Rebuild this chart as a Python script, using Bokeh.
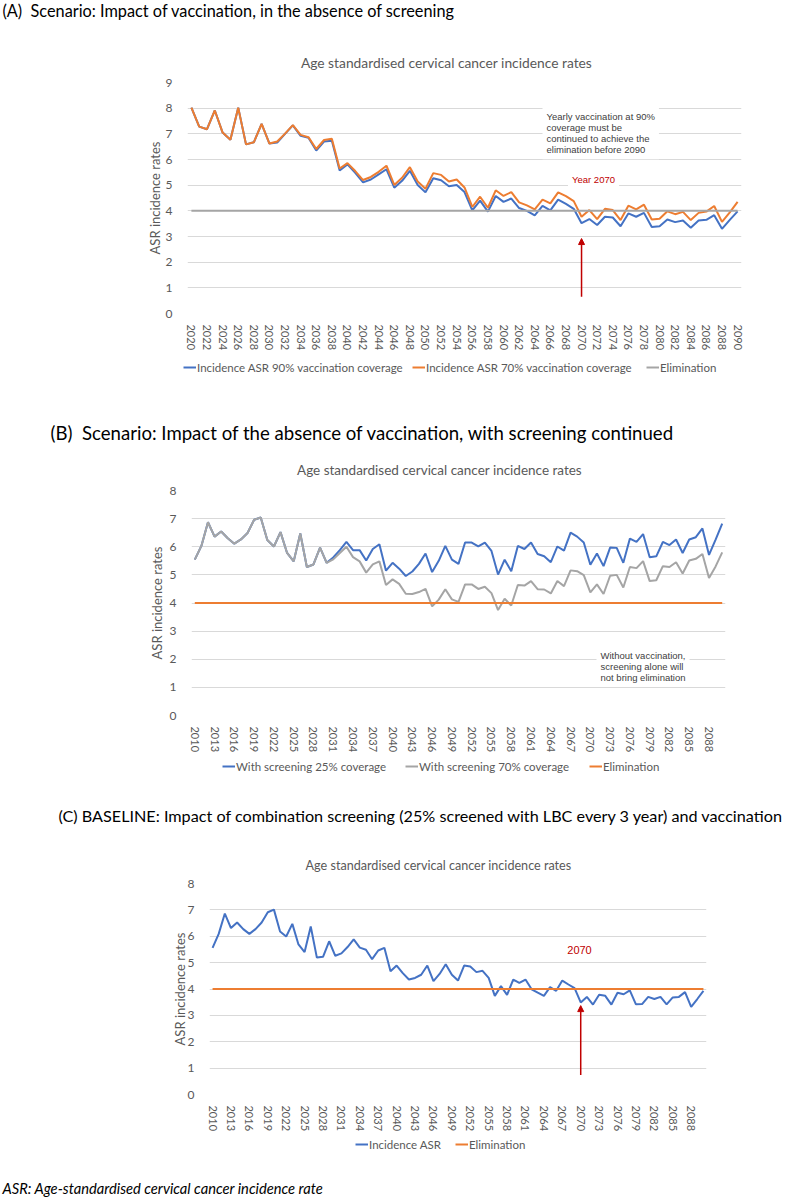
from bokeh.plotting import figure
from bokeh.models import Label, Legend, LegendItem, Arrow, NormalHead, FixedTicker, Range1d
from bokeh.layouts import column
from bokeh.embed import file_html
from bokeh.resources import INLINE

# ---------------- data ----------------
years_a = list(range(2020, 2091))
vacc90 = [8.02, 7.28, 7.18, 7.91, 7.05, 6.77, 8.02, 6.59, 6.67, 7.39,
          6.62, 6.66, 7.00, 7.33, 6.92, 6.85, 6.35, 6.70, 6.73, 5.57,
          5.81, 5.48, 5.11, 5.22, 5.42, 5.62, 4.90, 5.17, 5.56, 5.01,
          4.72, 5.27, 5.19, 4.96, 5.01, 4.73, 4.02, 4.40, 3.97, 4.58,
          4.35, 4.48, 4.11, 4.00, 3.82, 4.19, 4.02, 4.44, 4.27, 4.08,
          3.52, 3.68, 3.45, 3.77, 3.74, 3.40, 3.90, 3.77, 3.92, 3.37,
          3.40, 3.66, 3.56, 3.62, 3.34, 3.62, 3.65, 3.83, 3.30, 3.65, 3.98]
vacc70 = [8.02, 7.28, 7.18, 7.91, 7.05, 6.77, 8.02, 6.59, 6.67, 7.39,
          6.62, 6.70, 7.01, 7.34, 6.96, 6.87, 6.41, 6.76, 6.81, 5.65,
          5.86, 5.55, 5.20, 5.32, 5.52, 5.76, 5.01, 5.29, 5.70, 5.14,
          4.86, 5.47, 5.40, 5.14, 5.22, 4.91, 4.15, 4.55, 4.12, 4.80,
          4.58, 4.73, 4.33, 4.21, 4.06, 4.44, 4.29, 4.72, 4.57, 4.38,
          3.77, 4.03, 3.68, 4.08, 4.03, 3.64, 4.20, 4.06, 4.24, 3.66,
          3.69, 3.98, 3.87, 3.96, 3.64, 3.92, 3.97, 4.19, 3.57, 3.94, 4.35]

years_bc = list(range(2010, 2091))
screen25 = [5.54, 6.03, 6.87, 6.36, 6.54, 6.30, 6.11, 6.26, 6.49, 6.96,
            7.04, 6.24, 6.01, 6.52, 5.78, 5.48, 6.47, 5.28, 5.37, 5.97,
            5.43, 5.62, 5.88, 6.17, 5.88, 5.88, 5.51, 5.92, 6.09, 5.15,
            5.43, 5.22, 4.96, 5.12, 5.39, 5.76, 5.10, 5.50, 6.03, 5.54,
            5.39, 6.15, 6.15, 6.01, 6.15, 5.85, 5.01, 5.54, 5.13, 6.03,
            5.92, 6.15, 5.74, 5.66, 5.45, 6.01, 5.86, 6.50, 6.36, 6.15,
            5.36, 5.76, 5.31, 5.97, 5.96, 5.43, 6.29, 6.17, 6.45, 5.63,
            5.66, 6.17, 6.06, 6.26, 5.78, 6.26, 6.34, 6.65, 5.71, 6.25, 6.82]
screen70 = [5.54, 6.03, 6.87, 6.36, 6.54, 6.30, 6.11, 6.26, 6.49, 6.96,
            7.04, 6.24, 6.01, 6.52, 5.78, 5.48, 6.47, 5.28, 5.37, 5.97,
            5.43, 5.55, 5.78, 6.00, 5.63, 5.48, 5.08, 5.37, 5.48, 4.64,
            4.84, 4.68, 4.33, 4.32, 4.39, 4.50, 3.88, 4.12, 4.49, 4.13,
            4.04, 4.66, 4.66, 4.50, 4.58, 4.35, 3.75, 4.15, 3.91, 4.64,
            4.62, 4.78, 4.49, 4.48, 4.34, 4.78, 4.60, 5.16, 5.13, 4.99,
            4.38, 4.66, 4.32, 4.97, 5.00, 4.55, 5.28, 5.24, 5.49, 4.78,
            4.81, 5.31, 5.28, 5.45, 5.05, 5.51, 5.57, 5.74, 4.89, 5.30, 5.80]
baseline = [5.56, 6.09, 6.86, 6.31, 6.52, 6.27, 6.09, 6.27, 6.52, 6.91,
            7.01, 6.18, 5.99, 6.47, 5.69, 5.40, 6.37, 5.19, 5.22, 5.81,
            5.26, 5.35, 5.59, 5.88, 5.57, 5.49, 5.13, 5.46, 5.56, 4.67,
            4.89, 4.60, 4.36, 4.42, 4.54, 4.89, 4.30, 4.57, 4.94, 4.54,
            4.32, 4.89, 4.85, 4.64, 4.69, 4.42, 3.74, 4.11, 3.78, 4.36,
            4.23, 4.36, 3.99, 3.86, 3.74, 4.07, 3.93, 4.32, 4.17, 4.03,
            3.49, 3.70, 3.41, 3.78, 3.74, 3.41, 3.86, 3.80, 3.95, 3.42,
            3.43, 3.70, 3.62, 3.70, 3.42, 3.68, 3.70, 3.88, 3.32, 3.62, 3.93]

elimination_level = 4
elim_a = [elimination_level] * len(years_a)
elim_bc = [elimination_level] * len(years_bc)
ticks_a = list(range(2020, 2091, 2))
ticks_bc = list(range(2010, 2089, 3))

# ---------------- styling ----------------
W = 787
FONT = "Lato"
NOTE_FONT = "Liberation Sans"
BLUE, ORANGE, GREY = "#4472c4", "#ed7d31", "#a5a5a5"
RED, GRID, TXT = "#c00000", "#d9d9d9", "#595959"
GAP = "\u00a0 "


def text_strip(height):
    """A plain figure whose frame fills the whole strip; used for headings, keys and notes."""
    p = figure(width=W, height=height, output_backend="svg", toolbar_location=None,
               x_range=Range1d(0, W), y_range=Range1d(height, 0),
               min_border=0, x_axis_location=None, y_axis_location=None)
    p.frame_align = False
    p.outline_line_color = None
    p.grid.visible = False
    return p


def strip_text(p, x, y, text, size, color="black", align="left", style="normal"):
    p.add_layout(Label(x=x, y=y, text=text, text_font=FONT, text_font_size=size,
                       text_color=color, text_align=align, text_baseline="middle",
                       text_font_style=style))


def key_strip(height, y, entries):
    """Legend row. Each entry is (x, label, colour, years, values); the series is attached
    to the strip's own line renderer, which lies outside the strip's pixel range."""
    p = text_strip(height)
    for x, label, color, xs, ys in entries:
        r = p.line(xs, ys, line_color=color, line_width=2)
        p.add_layout(Legend(items=[LegendItem(label=label, renderers=[r])],
                            location=(x, height - (y + 7)), orientation="horizontal",
                            padding=0, margin=0, spacing=0, glyph_width=13, glyph_height=14,
                            label_height=14, label_standoff=1, border_line_color=None,
                            background_fill_alpha=0, label_text_font=FONT,
                            label_text_font_size="11.5px", label_text_color=TXT))
    return p


class Chart:
    def __init__(self, top, height, ml, mr, mt, mb, x0, x1, ymax, xticks, ylabel_standoff):
        self.top, self.ml, self.fb = top, ml, height - mb
        p = figure(width=W, height=height, output_backend="svg", toolbar_location=None,
                   x_range=Range1d(x0 - 0.5, x1 + 0.5), y_range=Range1d(0, ymax),
                   min_border_left=ml, min_border_right=mr,
                   min_border_top=mt, min_border_bottom=mb)
        p.frame_align = False
        p.outline_line_color = None
        p.xgrid.visible = False
        p.ygrid.grid_line_color = GRID
        p.yaxis.ticker = FixedTicker(ticks=list(range(0, ymax + 1)))
        p.xaxis.ticker = FixedTicker(ticks=xticks)
        p.xaxis.major_label_orientation = "vertical"
        for ax in (p.xaxis, p.yaxis):
            ax.axis_line_color = None
            ax.major_tick_line_color = None
            ax.minor_tick_line_color = None
            ax.major_label_text_font = FONT
            ax.major_label_text_color = TXT
        p.xaxis.major_label_text_font_size = "11px"
        p.xaxis.major_label_standoff = 5
        p.yaxis.major_label_text_font_size = "12px"
        p.yaxis.major_label_standoff = 9
        p.yaxis.axis_label = "ASR incidence rates"
        p.yaxis.axis_label_text_font = FONT
        p.yaxis.axis_label_text_font_size = "13px"
        p.yaxis.axis_label_text_font_style = "normal"
        p.yaxis.axis_label_text_color = TXT
        p.yaxis.axis_label_standoff = ylabel_standoff
        self.p = p

    def note(self, x, y, text, size, color, align="left", baseline="middle", pad=None):
        # x, y in page pixels; screen units count from the frame's lower-left corner
        lab = Label(x=x - self.ml, y=self.fb - (y - self.top), x_units="screen", y_units="screen",
                    text=text, text_font=NOTE_FONT, text_font_size=size, text_color=color,
                    text_align=align, text_baseline=baseline, text_line_height=1.02)
        if pad is not None:
            lab.background_fill_color = "white"
            lab.padding = pad
        self.p.add_layout(lab)


# ---------------- (A) vaccination only ----------------
hA = text_strip(70)
strip_text(hA, 2, 10, "(A)" + GAP + "Scenario: Impact of vaccination, in the absence of screening", "16.3px")
strip_text(hA, 446, 62, "Age standardised cervical cancer incidence rates", "13.8px", color=TXT, align="center")

ca = Chart(70, 283, 187, 46, 12, 35, years_a[0], years_a[-1], 9, ticks_a, 0)
pa = ca.p
pa.line(years_a, vacc90, line_color=BLUE, line_width=2)
pa.line(years_a, vacc70, line_color=ORANGE, line_width=2)
pa.line(years_a, elim_a, line_color=GREY, line_width=2)
pa.add_layout(Arrow(end=NormalHead(size=6, fill_color=RED, line_color=RED),
                    x_start=2070, y_start=0.65, x_end=2070, y_end=2.92,
                    line_color=RED, line_width=1.5))
ca.note(542, 111,
        "Yearly vaccination at 90%\ncoverage must be\ncontinued to achieve the\nelimination before 2090",
        "9.5px", "#404040", baseline="top", pad=4)
ca.note(593, 183.5, "Year 2070", "9.5px", RED, align="center", pad=4)
kA = key_strip(42, 14, [(183, "Incidence ASR 90% vaccination coverage", BLUE, years_a, vacc90),
                        (412, "Incidence ASR 70% vaccination coverage", ORANGE, years_a, vacc70),
                        (646, "Elimination", GREY, years_a, elim_a)])

# ---------------- (B) screening only ----------------
hB = text_strip(84)
strip_text(hB, 50, 37, "(B)" + GAP + "Scenario: Impact of the absence of vaccination, with screening continued", "18.6px")
strip_text(hB, 439, 74.5, "Age standardised cervical cancer incidence rates", "13.5px", color=TXT, align="center")

cb = Chart(479, 276, 191, 62, 11, 35, years_bc[0], years_bc[-1], 8, ticks_bc, 2)
pb = cb.p
pb.line(years_bc, screen25, line_color=BLUE, line_width=2)
pb.line(years_bc, screen70, line_color=GREY, line_width=2)
pb.line(years_bc, elim_bc, line_color=ORANGE, line_width=2)
cb.note(596, 650, "Without vaccination,\nscreening alone will\nnot bring elimination",
        "9.5px", "#404040", baseline="top", pad=4)
kB = key_strip(35, 11, [(222, "With screening 25% coverage", BLUE, years_bc, screen25),
                        (405, "With screening 70% coverage", GREY, years_bc, screen70),
                        (589, "Elimination", ORANGE, years_bc, elim_bc)])

# ---------------- (C) screening + vaccination ----------------
hC = text_strip(82)
strip_text(hC, 58, 25,
           "(C) BASELINE: Impact of combination screening (25% screened with LBC every 3 year) and vaccination",
           "16.2px")
strip_text(hC, 438, 75, "Age standardised cervical cancer incidence rates", "12.6px", color=TXT, align="center")

cc = Chart(872, 262, 209, 81, 11, 35, years_bc[0], years_bc[-1], 8, ticks_bc, -3)
pc = cc.p
pc.line(years_bc, baseline, line_color=BLUE, line_width=2)
pc.line(years_bc, elim_bc, line_color=ORANGE, line_width=2)
pc.add_layout(Arrow(end=NormalHead(size=6, fill_color=RED, line_color=RED),
                    x_start=2070, y_start=0.74, x_end=2070, y_end=3.37,
                    line_color=RED, line_width=1.5))
cc.note(579, 954, "2070", "11px", RED, align="center")
kC = key_strip(31, 10, [(355, "Incidence ASR", BLUE, years_bc, baseline),
                        (455, "Elimination", ORANGE, years_bc, elim_bc)])

foot = text_strip(34)
strip_text(foot, 2, 22, "ASR: Age-standardised cervical cancer incidence rate", "14.7px", style="italic")

page = column(hA, pa, kA, hB, pb, kB, hC, pc, kC, foot, spacing=0)
open("out.html", "w").write(file_html(page, INLINE))
